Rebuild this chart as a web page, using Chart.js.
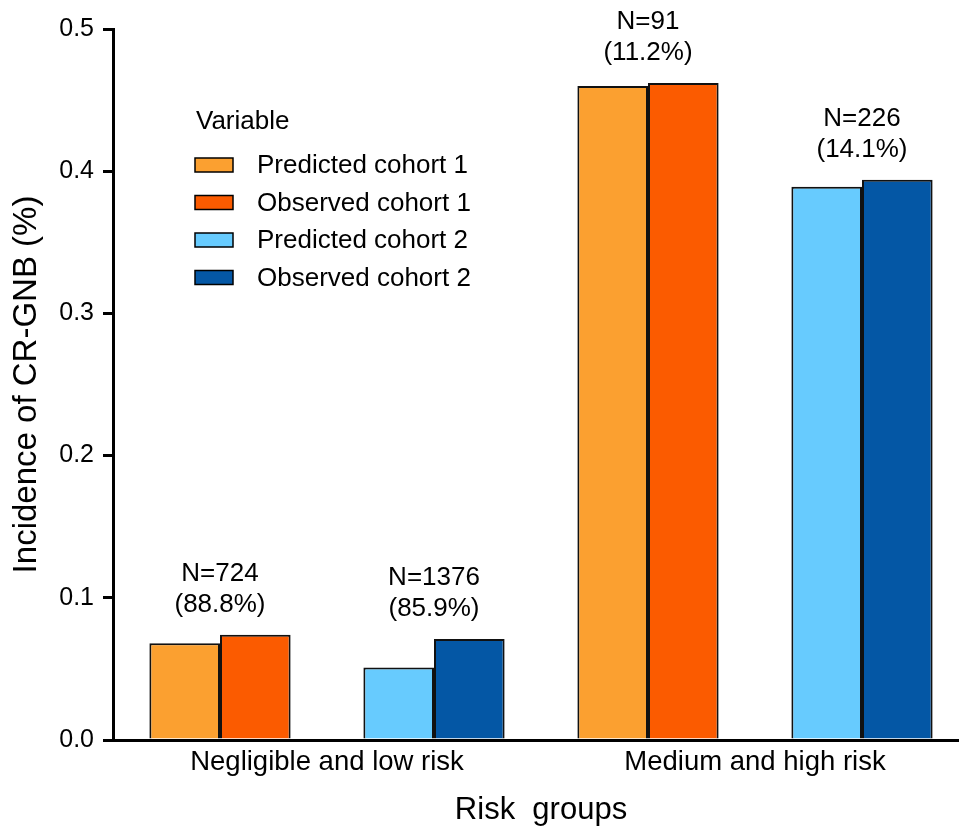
<!DOCTYPE html>
<html>
<head>
<meta charset="utf-8">
<script src="https://cdn.jsdelivr.net/npm/chart.js@4.4.1/dist/chart.umd.min.js"></script>
<style>
  html, body { margin: 0; padding: 0; background: #fff; overflow: hidden; }
  #wrap { width: 959px; height: 828px; overflow: hidden; }
  canvas { display: block; }
</style>
</head>
<body>
<div id="wrap"><canvas id="riskChart" width="969" height="828"></canvas></div>
<script>
// ======================
// Dados
// ======================
const slots = ['Low cohort 1', 'Low cohort 2', 'High cohort 1', 'High cohort 2'];
const groupLabels = ['Negligible and low risk', '', 'Medium and high risk', ''];
const predictedCohort1 = [0.068, null, 0.460, null];
const observedCohort1 = [0.074, null, 0.462, null];
const predictedCohort2 = [null, 0.051, null, 0.389];
const observedCohort2 = [null, 0.071, null, 0.394];
const countLabels = ['N=724', 'N=1376', 'N=91', 'N=226'];
const shareLabels = ['(88.8%)', '(85.9%)', '(11.2%)', '(14.1%)'];
const yTicks = [0, 0.1, 0.2, 0.3, 0.4, 0.5];

const FONT = "'Liberation Sans', Arial, Helvetica, sans-serif";

// ======================
// Rótulos N=... acima das barras
// ======================
const countLabelPlugin = {
  id: 'countLabels',
  afterDatasetsDraw(chart) {
    const ctx = chart.ctx;
    const x = chart.scales.x;
    const y = chart.scales.y;
    ctx.save();
    ctx.fillStyle = '#000';
    ctx.font = '26px ' + FONT;
    ctx.textAlign = 'center';
    ctx.textBaseline = 'middle';
    slots.forEach((s, i) => {
      const vals = chart.data.datasets.map(d => d.data[i]).filter(v => v != null);
      const top = y.getPixelForValue(Math.max(...vals));
      const cx = x.getPixelForValue(i);
      ctx.fillText(countLabels[i], cx, top - 61);
      ctx.fillText(shareLabels[i], cx, top - 30);
    });
    ctx.restore();
  }
};

// ======================
// Legenda dentro do gráfico
// ======================
const insideLegendPlugin = {
  id: 'insideLegend',
  afterDraw(chart) {
    const ctx = chart.ctx;
    const left = chart.chartArea.left + 82;
    ctx.save();
    ctx.font = '26px ' + FONT;
    ctx.fillStyle = '#000';
    ctx.textAlign = 'left';
    ctx.textBaseline = 'middle';
    ctx.fillText('Variable', left + 1, 122);
    chart.data.datasets.forEach((ds, i) => {
      const cy = 165 + i * 37.5;
      ctx.fillStyle = ds.backgroundColor;
      ctx.fillRect(left, cy - 7, 38, 14);
      ctx.strokeStyle = '#000';
      ctx.lineWidth = 1.5;
      ctx.strokeRect(left, cy - 7, 38, 14);
      ctx.fillStyle = '#000';
      ctx.fillText(ds.label, left + 62, cy + 1);
    });
    ctx.restore();
  }
};

const riskCtx = document.getElementById('riskChart').getContext('2d');
const riskChart = new Chart(riskCtx, {
  type: 'bar',
  data: {
    labels: slots,
    datasets: [
      { label: 'Predicted cohort 1', data: predictedCohort1, backgroundColor: '#FBA030', stack: 'pred' },
      { label: 'Observed cohort 1', data: observedCohort1, backgroundColor: '#FB5B00', stack: 'obs' },
      { label: 'Predicted cohort 2', data: predictedCohort2, backgroundColor: '#67CBFE', stack: 'pred' },
      { label: 'Observed cohort 2', data: observedCohort2, backgroundColor: '#0457A5', stack: 'obs' }
    ]
  },
  options: {
    responsive: false,
    animation: false,
    layout: { padding: { top: 29, right: 0, left: 0, bottom: 0 } },
    datasets: {
      bar: {
        borderColor: '#111',
        borderWidth: 2,
        categoryPercentage: 0.66,
        barPercentage: 1.0
      }
    },
    plugins: {
      legend: { display: false },
      tooltip: { enabled: false }
    },
    scales: {
      x: {
        stacked: true,
        grid: { display: false, drawTicks: false },
        border: { display: true, color: '#000', width: 3 },
        ticks: {
          color: '#000',
          font: { family: FONT, size: 27.5 },
          padding: 6,
          labelOffset: 107,
          maxRotation: 0,
          autoSkip: false,
          callback: (v, i) => groupLabels[i]
        },
        title: {
          display: true,
          text: 'Risk  groups',
          color: '#000',
          font: { family: FONT, size: 31, lineHeight: 1 },
          padding: { top: 0, bottom: 2 }
        },
        afterFit: scale => { scale.height = 88; }
      },
      y: {
        stacked: true,
        min: 0,
        max: 0.5,
        afterBuildTicks: scale => { scale.ticks = yTicks.map(v => ({ value: v })); },
        grid: { display: true, drawOnChartArea: false, drawTicks: true, tickLength: 10, color: '#000', lineWidth: 3 },
        border: { display: true, color: '#000', width: 3 },
        ticks: {
          color: '#000',
          font: { family: FONT, size: 25 },
          padding: 9,
          callback: v => Number(v).toFixed(1)
        },
        title: {
          display: true,
          text: 'Incidence of CR-GNB (%)',
          color: '#000',
          font: { family: FONT, size: 33, lineHeight: 1 },
          padding: { top: 10, bottom: 0 }
        },
        afterFit: scale => { scale.width = 113; }
      }
    }
  },
  plugins: [countLabelPlugin, insideLegendPlugin]
});
</script>
</body>
</html>
